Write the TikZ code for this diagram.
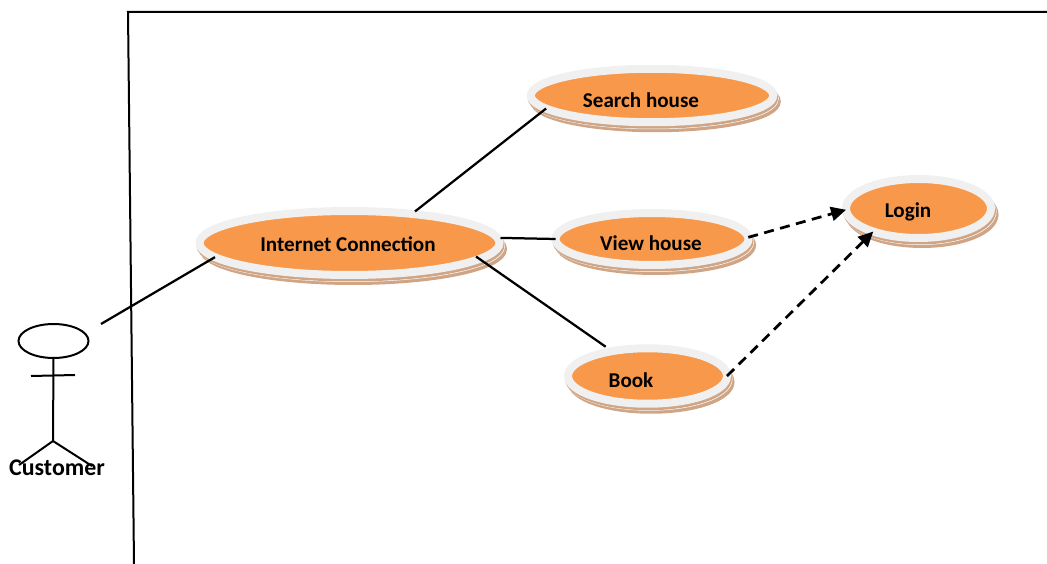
\documentclass[tikz,border=0pt]{standalone}
\usepackage{fontspec}
\setmainfont{Carlito}
\usetikzlibrary{arrows.meta,shapes.geometric,shadows}
\definecolor{casefill}{HTML}{F7984A}
\definecolor{caserim}{HTML}{F0F0F0}
\definecolor{casetan}{HTML}{CFA586}
\tikzset{
  usecase/.style={ellipse, fill=casefill, draw=caserim, line width=0.16cm, inner sep=0pt, outer sep=0pt,
    general shadow={fill=casetan, draw=casetan, shadow xshift=0.07cm, shadow yshift=-0.12cm},
    general shadow={fill=white, draw=white, shadow xshift=0.03cm, shadow yshift=-0.06cm},
    general shadow={fill=casetan, draw=casetan, shadow xshift=0.02cm, shadow yshift=-0.05cm}},
  caselabel/.style={font=\fontsize{12}{14}\selectfont\bfseries, inner sep=0pt},
  assoc/.style={line width=0.045cm},
  incl/.style={line width=0.055cm, dash pattern=on 0.2cm off 0.13cm, -{Triangle[length=0.3cm,width=0.28cm]}},
  stick/.style={line width=0.04cm}
}
\begin{document}
\begin{tikzpicture}[x=0.02cm,y=-0.02cm]
\useasboundingbox (0,0) rectangle (1047,564);

% system boundary
\coordinate (sysTL) at (128,12);
\coordinate (sysTR) at (1047,12);
\coordinate (sysBL) at (134,564);
\draw [stick] (sysTR) -- (sysTL) -- (sysBL);

% use cases
\node[usecase, minimum width=6cm, minimum height=1.28cm] (inet) at (349.5,243) {};
\node[caselabel] (inetTxt) at (348,244) {Internet Connection};
\node[usecase, minimum width=4.85cm, minimum height=1.07cm] (search) at (652,95.5) {};
\node[caselabel] (searchTxt) at (641,100) {Search house};
\node[usecase, minimum width=3.86cm, minimum height=1.04cm] (view) at (652,239) {};
\node[caselabel] (viewTxt) at (651,243) {View house};
\node[usecase, minimum width=3.18cm, minimum height=1.11cm] (book) at (647.5,376) {};
\node[caselabel] (bookTxt) at (631,380) {Book};
\node[usecase, minimum width=2.9cm, minimum height=1.18cm] (login) at (918.5,208.5) {};
\node[caselabel] (loginTxt) at (908,212) {Login};

% actor
\node[ellipse, draw, stick, minimum width=1.4cm, minimum height=0.68cm, inner sep=0pt] (head) at (53.5,341) {};
\coordinate (hip) at (53,441);
\coordinate (armL) at (31,376);
\coordinate (armR) at (75,375);
\coordinate (legL) at (19,465);
\coordinate (legR) at (92,466);
\coordinate (custEnd) at (101,324);
\draw [stick] (head.south) -- (hip);
\draw [stick] (armL) -- (armR);
\draw [stick] (legL) -- (hip) -- (legR);
\node[caselabel, font=\fontsize{13.6}{16}\selectfont\bfseries] (custTxt) at (57,468) {Customer};

% associations
\draw [assoc] (custEnd) -- (inet.186.4);
\draw [assoc, shorten <=0.08cm] (inet.25) -- (search.187.9);
\draw [assoc, shorten <=0.06cm] (inet.2) -- (view.180);
\draw [assoc, shorten <=-0.085cm, shorten >=0.154cm] (inet.-7.3) -- (book.145.6);

% dashed links to login
\draw [incl] (view.1.5) -- (login.181.6);
\draw [incl] (book.0.7) -- (login.207.3);
\end{tikzpicture}
\end{document}
